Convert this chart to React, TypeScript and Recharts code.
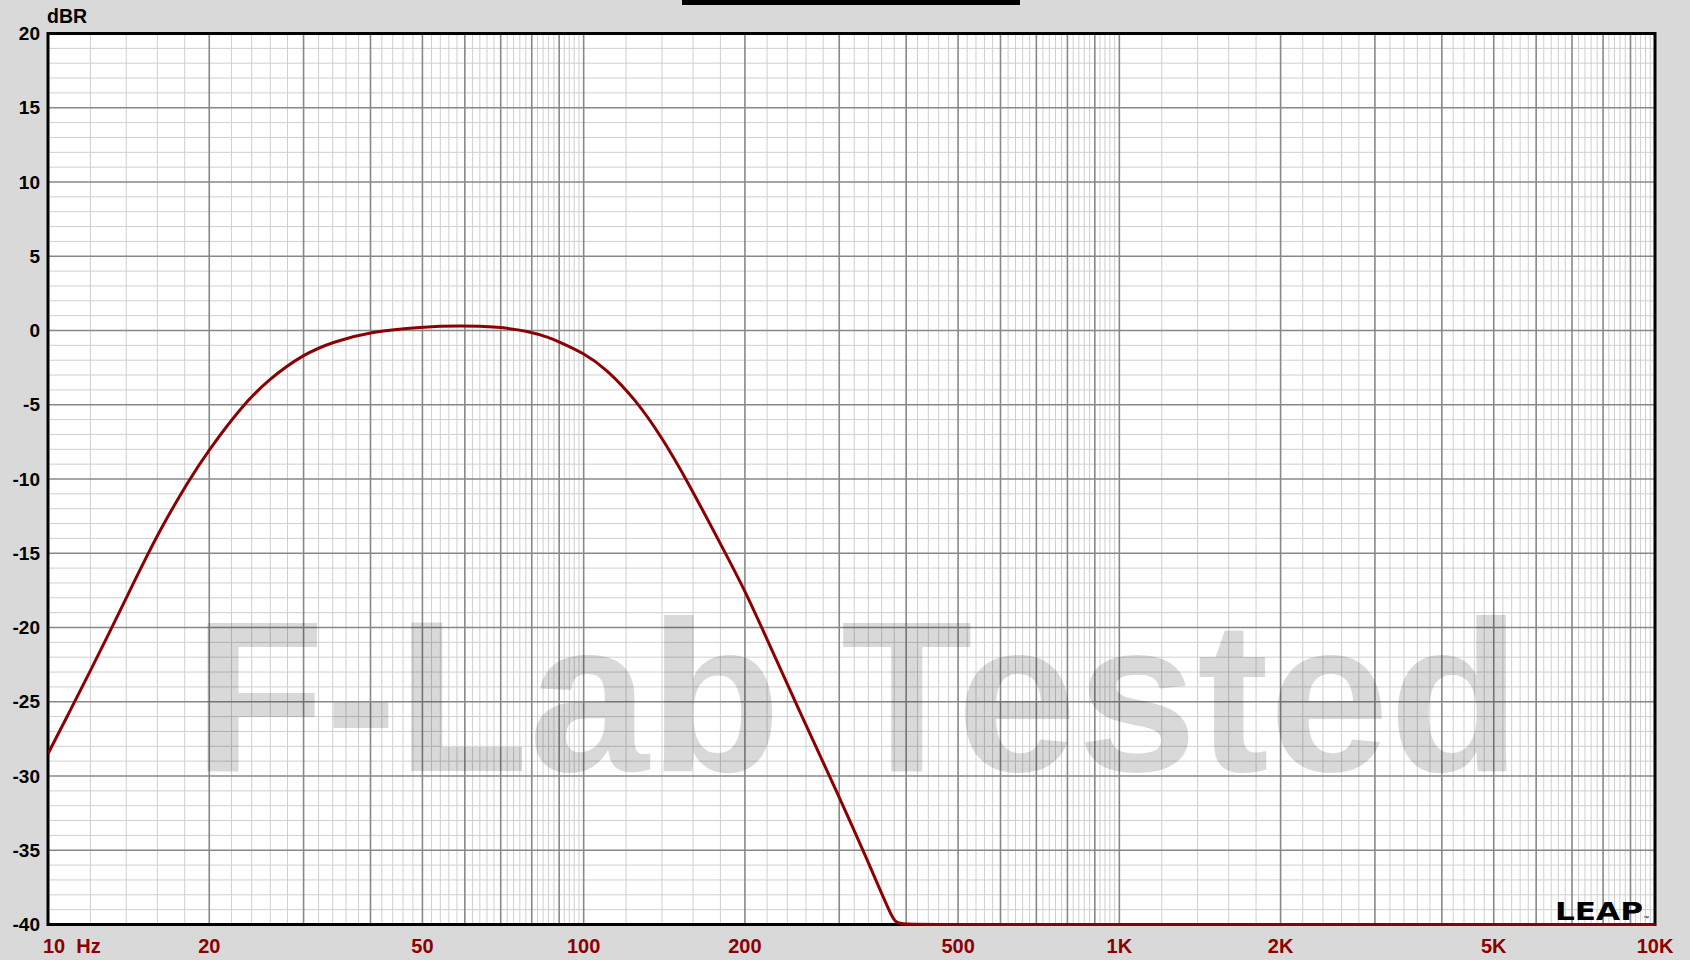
import React from 'react';
import { LineChart, Line, XAxis, YAxis, CartesianGrid, ReferenceArea } from 'recharts';

// Frequency (Hz) and level (dBR)
const freqHz = [10, 11, 12, 13, 14, 15, 16.2, 18.3, 20, 23, 25.8, 30, 34.2, 40, 50, 58.7, 69.3, 78.9, 86.5, 90, 100, 110, 125, 140, 156, 182.7, 200, 220, 254, 300, 338, 379, 385, 500, 1000, 10000];
const levelDbr = [-28.5, -25.6, -22.9, -20.4, -18.0, -15.8, -13.4, -10.1, -8.0, -5.1, -3.3, -1.58, -0.75, -0.07, 0.25, 0.32, 0.25, -0.04, -0.5, -0.76, -1.52, -2.55, -4.65, -7.2, -10.1, -14.8, -17.5, -20.8, -25.8, -31.4, -35.6, -39.8, -40, -40, -40, -40];

const xTicks = [10, 20, 50, 100, 200, 500, 1000, 2000, 5000, 10000];
const xTickLabels = ['10\u00a0\u00a0Hz', '20', '50', '100', '200', '500', '1K', '2K', '5K', '10K'];
const yTicks = [20, 15, 10, 5, 0, -5, -10, -15, -20, -25, -30, -35, -40];

const X_DOMAIN = [10, 10000];
const Y_DOMAIN = [-40, 20];

const decades = [10, 100, 1000];
const majorMultipliers = [1, 2, 3, 4, 5, 6, 7, 8, 9];
const minorOffsets = [0.2, 0.4, 0.6, 0.8];
const dbMajor = yTicks;
const dbMinor = [19, 18, 17, 16, 14, 13, 12, 11, 9, 8, 7, 6, 4, 3, 2, 1, -1, -2, -3, -4, -6, -7, -8, -9, -11, -12, -13, -14, -16, -17, -18, -19, -21, -22, -23, -24, -26, -27, -28, -29, -31, -32, -33, -34, -36, -37, -38, -39];

const majorFreqs: number[] = [];
const minorFreqs: number[] = [];
decades.forEach((d) => {
  majorMultipliers.forEach((m) => {
    majorFreqs.push(m * d);
    minorOffsets.forEach((o) => minorFreqs.push((m + o) * d));
  });
});
majorFreqs.push(10000);

const data = freqHz.map((f, i) => ({ f, v: levelDbr[i] }));

const RED = '#8b0000';
const FONT = '"Liberation Sans", Arial, sans-serif';
const MARGIN = { top: 33.5, right: 35, bottom: 5, left: 8 };
const Y_AXIS_W = 40;
const X_AXIS_H = 30.5;
const W = 1690;
const H = 960;

const XTick = (props: any) => {
  const { x, y, payload } = props;
  const idx = xTicks.indexOf(payload.value);
  const label = xTickLabels[idx] ?? String(payload.value);
  const first = idx === 0;
  return (
    <text
      x={first ? x - 5 : x}
      y={y}
      dy={20.5}
      textAnchor={first ? 'start' : 'middle'}
      fill={RED}
      fontSize={20}
      fontWeight="bold"
      fontFamily={FONT}
    >
      {label}
    </text>
  );
};

const plotBox = (p: any) => {
  const o = p && p.offset;
  if (o && typeof o.left === 'number' && typeof o.width === 'number') {
    return { left: o.left, top: o.top, width: o.width, height: o.height };
  }
  return {
    left: MARGIN.left + Y_AXIS_W,
    top: MARGIN.top,
    width: W - MARGIN.left - Y_AXIS_W - MARGIN.right,
    height: H - MARGIN.top - MARGIN.bottom - X_AXIS_H,
  };
};

const vGen = (vals: number[]) => (p: any) => {
  const s = p && p.xAxis && p.xAxis.scale;
  if (typeof s === 'function') return vals.map((f) => s(f));
  const b = plotBox(p);
  const span = Math.log10(X_DOMAIN[1] / X_DOMAIN[0]);
  return vals.map((f) => b.left + (Math.log10(f / X_DOMAIN[0]) / span) * b.width);
};
const hGen = (vals: number[]) => (p: any) => {
  const s = p && p.yAxis && p.yAxis.scale;
  if (typeof s === 'function') return vals.map((v) => s(v));
  const b = plotBox(p);
  return vals.map((v) => b.top + ((Y_DOMAIN[1] - v) / (Y_DOMAIN[1] - Y_DOMAIN[0])) * b.height);
};

export default function App() {
  return (
    <div style={{ position: 'fixed', left: 0, top: 0, width: W, height: H, background: '#d9d9d9', overflow: 'hidden' }}>
      <LineChart width={W} height={H} data={data} margin={MARGIN}>
        <XAxis
          dataKey="f"
          type="number"
          scale="log"
          domain={X_DOMAIN}
          ticks={xTicks}
          interval={0}
          allowDataOverflow
          height={X_AXIS_H}
          axisLine={false}
          tickLine={false}
          tick={<XTick />}
        />
        <YAxis
          type="number"
          domain={Y_DOMAIN}
          ticks={yTicks}
          interval={0}
          width={Y_AXIS_W}
          axisLine={false}
          tickLine={false}
          tick={{ fill: '#000', fontSize: 19, fontWeight: 'bold', fontFamily: FONT }}
        />
        <CartesianGrid
          fill="#ffffff"
          fillOpacity={1}
          stroke="#cfcfcf"
          strokeWidth={1}
          verticalCoordinatesGenerator={vGen(minorFreqs)}
          horizontalCoordinatesGenerator={hGen(dbMinor)}
        />
        <text
          x={857}
          y={771}
          textAnchor="middle"
          fontSize={216}
          fontWeight="bold"
          fontFamily={FONT}
          fill="#000"
          fillOpacity={0.15}
        >
          F-Lab Tested
        </text>
        <CartesianGrid
          stroke="#888888"
          strokeWidth={1.6}
          verticalCoordinatesGenerator={vGen(majorFreqs)}
          horizontalCoordinatesGenerator={hGen(dbMajor)}
        />
        <ReferenceArea x1={10} x2={10000} y1={-40} y2={20} fill="none" stroke="#000" strokeWidth={3} ifOverflow="visible" />
        <Line
          type="basis"
          dataKey="v"
          stroke={RED}
          strokeWidth={3}
          dot={false}
          activeDot={false}
          isAnimationActive={false}
        />
      </LineChart>
      <svg width={W} height={H} style={{ position: 'absolute', left: 0, top: 0, pointerEvents: 'none' }}>
        <rect x={682} y={0} width={338} height={5} fill="#000" />
        <text x={47} y={22.7} fontSize={19.5} fontWeight="bold" fontFamily={FONT} fill="#000">dBR</text>
        <text x={1555} y={920} fontSize={25} fontWeight="900" fontFamily='"DejaVu Sans", sans-serif' fill="#000" textLength={88} lengthAdjust="spacingAndGlyphs">LEAP</text>
        <text x={1643} y={920} fontSize={6} fontFamily={FONT} fill="#000">™</text>
      </svg>
    </div>
  );
}
